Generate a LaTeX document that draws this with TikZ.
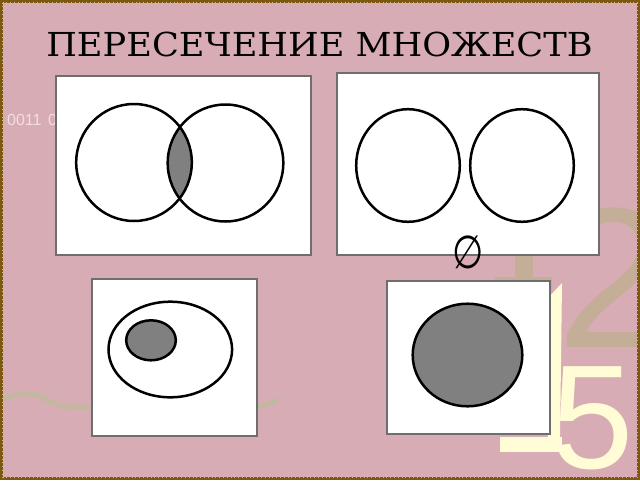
\documentclass[tikz,border=0pt]{standalone}
\usepackage{fontspec}
\setmainfont{DejaVu Serif}
\newfontfamily\sansf{Liberation Sans}
\newfontfamily\symf{DejaVu Sans}
\definecolor{bgpink}{HTML}{D8ACB4}
\definecolor{tandeco}{HTML}{C4AE98}
\definecolor{wavetan}{HTML}{C2B8A0}
\definecolor{paleyellow}{HTML}{FFFCD6}
\definecolor{framebrown}{HTML}{7E5712}
\definecolor{setgray}{HTML}{808080}
\definecolor{panelline}{HTML}{6E6E6E}
\definecolor{faintwhite}{HTML}{F3DFE2}
\begin{document}
\begin{tikzpicture}[x=1pt,y=-1pt,
  panel/.style={fill=white,draw=panelline,line width=1.1pt},
  setline/.style={draw=black,line width=2.5pt},
  setfill/.style={fill=setgray}]
\useasboundingbox (0,0) rectangle (640,480);
\fill[bgpink] (0,0) rectangle (640,480);
\begin{scope}
\clip (0,0) rectangle (640,480);
% decorative background digits
\node[anchor=base west,inner sep=0,text=tandeco,font=\sansf\fontsize{200}{200}\selectfont] (two) at (557,347) {2};
\fill[tandeco] (515,230) rectangle (533,285);
\fill[tandeco] (495,277) rectangle (552,292);
\node[anchor=base west,inner sep=0,text=paleyellow,font=\sansf\fontsize{148}{148}\selectfont] (five) at (551,468) {5};
\fill[paleyellow] (546,300) -- (562,283) -- (560,440) -- (548,440) -- cycle;
\fill[paleyellow] (500,437) rectangle (562,452);
% wave
\draw[wavetan,line width=5pt,line cap=round] (3,399) .. controls (15,394) and (25,393) .. (33,394) .. controls (45,396) and (55,407) .. (70,407) -- (250,407) .. controls (262,407) and (270,404) .. (276,400);
% faint binary text
\node[anchor=base west,inner sep=0,text=faintwhite,font=\sansf\fontsize{16}{16}\selectfont] (bits) at (7,125.5) {0011\hspace{6.5pt}0101};
\end{scope}
% frame
\draw[framebrown,line width=3pt] (1.5,1.5) rectangle (638.5,478.5);
\draw[paleyellow!60!framebrown,line width=0.8pt,dash pattern=on 0.8pt off 3pt] (2.5,2.5) rectangle (637.5,477.5);
% title
\node[anchor=base,inner sep=0,font=\fontsize{33}{33}\selectfont] (title) at (319.5,56.7) {\scalebox{1.066}[1]{ПЕРЕСЕЧЕНИЕ МНОЖЕСТВ}};
% panel 1: intersection
\draw[panel] (56,76) rectangle (311,255);
\begin{scope}
\clip (134,162.5) ellipse [x radius=57.8, y radius=58.5];
\fill[setfill] (225.5,163) ellipse [x radius=57.8, y radius=58.5];
\end{scope}
\draw[setline] (134,162.5) ellipse [x radius=57.8, y radius=58.5];
\draw[setline] (225.5,163) ellipse [x radius=57.8, y radius=58.5];
% panel 2: disjoint
\draw[panel] (337,73) rectangle (599,255);
\draw[setline] (408,165.5) ellipse [x radius=51.8, y radius=56.3];
\draw[setline] (522,165.5) ellipse [x radius=51.8, y radius=56.3];
\node[inner sep=0,font=\symf\fontsize{46}{46}\selectfont] (empty) at (468,252) {\scalebox{0.78}[1]{∅}};
% panel 3: subset
\draw[panel] (92,279) rectangle (257,436);
\draw[setline] (170.3,349.5) ellipse [x radius=61.8, y radius=47.8];
\draw[setline,setfill] (151,340.3) ellipse [x radius=24.8, y radius=20];
% panel 4: equal
\draw[panel] (387,281) rectangle (550,434);
\draw[setline,setfill] (467.5,355) ellipse [x radius=54.8, y radius=51.3];
\end{tikzpicture}
\end{document}
